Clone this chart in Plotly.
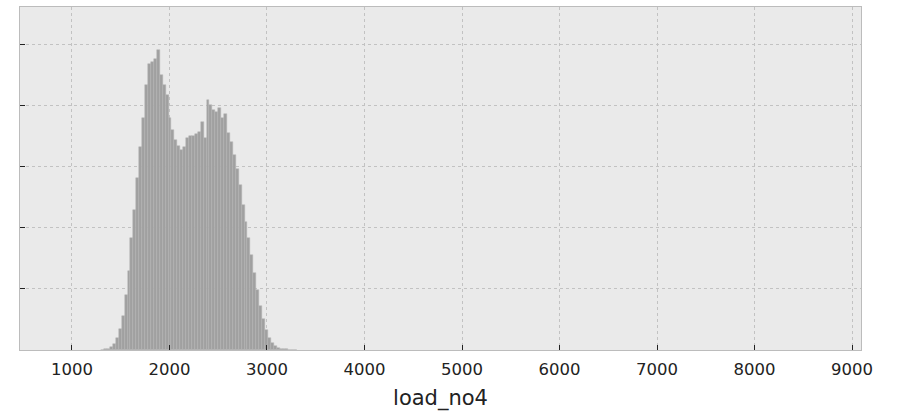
import plotly.graph_objects as go

# histogram bins (left edge of first bin, bin width) and counts
bin_start = 1300
bin_width = 30
counts = [0.3, 0.5, 0.8, 2.5, 5, 10, 17, 28, 45, 65,
          92, 115, 141, 166, 190, 217, 234, 236, 238, 246,
          225, 217, 209, 190, 180, 172, 167, 164, 166, 174,
          175, 175, 177, 179, 187, 174, 205, 201, 197, 195,
          198, 190, 193, 178, 170, 160, 148, 135, 119, 105,
          92, 78, 63, 49, 36, 25, 16, 10, 6, 3.5,
          2, 1.2, 0.8, 0.5, 0.3, 0.2, 0.1]
centers = [bin_start + bin_width * (i + 0.5) for i in range(len(counts))]

x_ticks = [1000, 2000, 3000, 4000, 5000, 6000, 7000, 8000, 9000]
y_ticks = [0, 50, 100, 150, 200, 250]
x_title = "load_no4"

fig = go.Figure()
fig.add_trace(go.Bar(
    x=centers, y=counts, width=bin_width,
    marker=dict(color="#a0a0a0", line=dict(color="#b4b4b4", width=0.5)),
    hoverinfo="x+y",
))

fig.update_layout(
    width=899, height=414,
    margin=dict(l=20, r=38, t=7, b=64),
    paper_bgcolor="white",
    plot_bgcolor="#eaeaea",
    showlegend=False,
    bargap=0,
    font=dict(family="DejaVu Sans", color="#222222"),
)
fig.update_xaxes(
    range=[467, 9092],
    tickvals=x_ticks,
    ticks="inside", ticklen=5, tickcolor="#222222", tickwidth=1.2,
    tickfont=dict(size=16.5, color="#222222"),
    ticklabelstandoff=4,
    showgrid=True, gridcolor="#c2c2c2", griddash="dot", gridwidth=1,
    showline=True, linecolor="#bcbcbc", linewidth=1, mirror=True,
    zeroline=False,
    title=dict(text=x_title, font=dict(size=21, color="#222222"), standoff=12),
)
fig.update_yaxes(
    range=[0, 281],
    tickvals=y_ticks,
    showticklabels=False,
    ticks="inside", ticklen=5, tickcolor="#222222", tickwidth=1.2,
    showgrid=True, gridcolor="#c2c2c2", griddash="dot", gridwidth=1,
    showline=True, linecolor="#bcbcbc", linewidth=1, mirror=True,
    zeroline=False,
)

fig.write_html("out.html")
